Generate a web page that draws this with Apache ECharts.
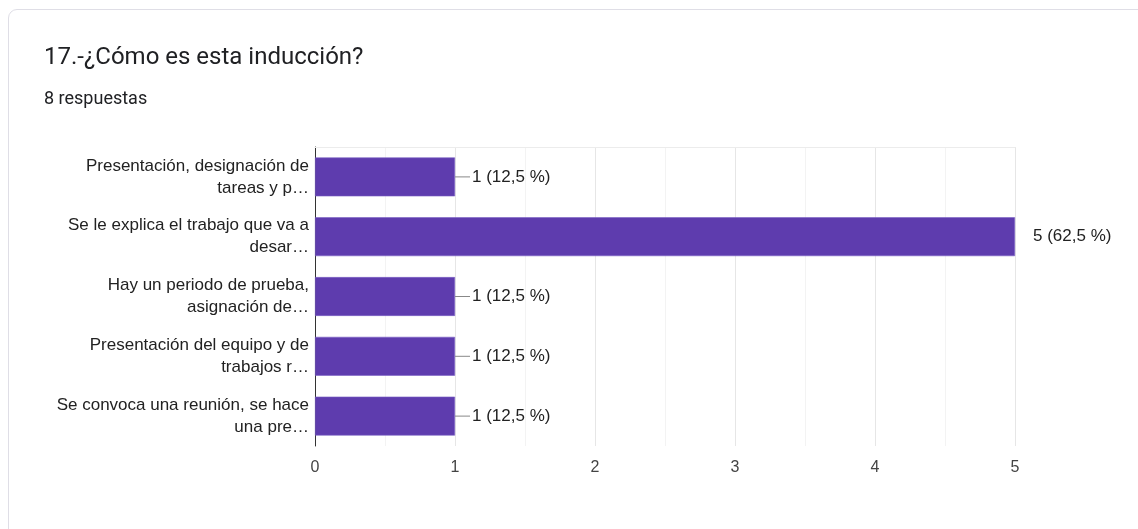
<!DOCTYPE html>
<html>
<head>
<meta charset="utf-8">
<script src="https://cdn.jsdelivr.net/npm/echarts@6/dist/echarts.min.js"></script>
<style>
  html, body { margin: 0; padding: 0; background: #ffffff; }
  #card {
    position: absolute; left: 8px; top: 9px; width: 1140px; height: 530px;
    border: 1.5px solid #dfdee6; border-radius: 9px; box-sizing: border-box;
    background: #ffffff;
  }
  #chart { position: absolute; left: 0; top: 0; width: 1138px; height: 529px; }
</style>
</head>
<body>
<div id="card"></div>
<div id="chart"></div>
<script>
// Answers to question 17 and how many people picked each one
const categories = [
  'Presentación, designación de\ntareas y p…',
  'Se le explica el trabajo que va a\ndesar…',
  'Hay un periodo de prueba,\nasignación de…',
  'Presentación del equipo y de\ntrabajos r…',
  'Se convoca una reunión, se hace\nuna pre…'
];
const counts = [1, 5, 1, 1, 1];
const totalResponses = 8;
const xTicks = [0, 1, 2, 3, 4, 5];

const pct = v => (v / totalResponses * 100).toFixed(1).replace('.', ',');
const labelText = v => v + ' (' + pct(v) + ' %)';
const maxCount = Math.max(...counts);

const chart = echarts.init(document.getElementById('chart'));
chart.setOption({
  animation: false,
  title: [
    {
      text: '17.-¿Cómo es esta inducción?',
      left: 44, top: 46, padding: 0,
      textStyle: { fontFamily: 'Roboto', fontSize: 24, fontWeight: 'normal', color: '#202124' }
    },
    {
      text: totalResponses + ' respuestas',
      left: 44, top: 90, padding: 0,
      textStyle: { fontFamily: 'Roboto', fontSize: 18, fontWeight: 'normal', color: '#202124' }
    }
  ],
  grid: { left: 315, right: 123, top: 147, bottom: 83 },
  xAxis: [
    {
      type: 'value', min: xTicks[0], max: xTicks[xTicks.length - 1], interval: 1,
      axisLine: { show: false }, axisTick: { show: false },
      axisLabel: { margin: 14, fontFamily: 'Liberation Sans', fontSize: 16, color: '#444' },
      splitLine: { lineStyle: { color: '#e6e6e6', width: 1 } },
      minorTick: { show: false, splitNumber: 2 },
      minorSplitLine: { show: true, lineStyle: { color: '#f3f3f3', width: 1 } }
    },
    {
      type: 'value', position: 'top', min: xTicks[0], max: xTicks[xTicks.length - 1],
      axisLine: { show: true, lineStyle: { color: '#ececec' } },
      axisTick: { show: false }, axisLabel: { show: false }, splitLine: { show: false }
    }
  ],
  yAxis: {
    type: 'category', data: categories, inverse: true,
    axisLine: { lineStyle: { color: '#333', width: 1 } },
    axisTick: { show: false },
    axisLabel: {
      margin: 6, fontFamily: 'Liberation Sans', fontSize: 17, color: '#222',
      lineHeight: 22, align: 'right'
    }
  },
  series: [{
    type: 'bar',
    barCategoryGap: '35%',
    itemStyle: { color: '#5e3cae', borderColor: '#7a5fc4', borderWidth: 0.6 },
    data: counts.map(v => ({
      value: v,
      label: v === maxCount
        ? { distance: 16, formatter: () => '{t|' + labelText(v) + '}' }
        : { distance: 0, formatter: () => '{l|}{t|' + labelText(v) + '}' }
    })),
    label: {
      show: true, position: 'right',
      rich: {
        l: { width: 15, height: 1, backgroundColor: '#888' },
        t: { fontFamily: 'Liberation Sans', fontSize: 17, color: '#222', padding: [0, 0, 0, 2] }
      }
    }
  }]
});
</script>
</body>
</html>
